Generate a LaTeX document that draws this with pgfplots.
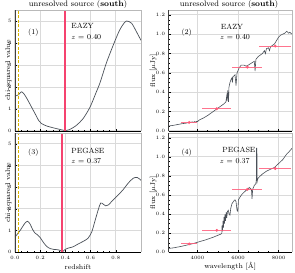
\documentclass[border=0pt]{standalone}
\usepackage{pgfplots}
\pgfplotsset{compat=1.18}
\definecolor{curvec}{HTML}{4A5058}
\definecolor{zline}{HTML}{F5436F}
\definecolor{ptred}{HTML}{FF5C7A}
\definecolor{ydash}{HTML}{D9B400}
\definecolor{gridc}{HTML}{DADADA}
\pgfplotsset{
  panel/.style={
    scale only axis, clip mode=individual,
    axis line style={draw=none},
    grid=major, major grid style={gridc, line width=1pt},
    major tick length=2.2pt, minor tick length=1.3pt,
    every tick/.append style={black, line width=0.35pt},
    tick align=inside, xtick pos=bottom, ytick pos=left,
    tick label style={font=\fontsize{5.5}{6}\selectfont},
    label style={font=\fontsize{7}{8}\selectfont},
  },
  leftp/.style={panel, width=126pt, xmin=0, xmax=1, ymin=0, ymax=5.5,
    xtick={0,0.2,0.4,0.6,0.8}, ytick={0,1,2,3,4,5},
    minor x tick num=3, minor y tick num=4,
    xticklabel style={/pgf/number format/fixed, /pgf/number format/fixed zerofill, /pgf/number format/precision=1},
    ylabel={chi-squared value},
    ylabel style={at={(axis description cs:-0.053,0.5)}, anchor=center},
  },
  rightp/.style={panel, width=123.5pt, xmin=2570, xmax=8660, ymin=0, ymax=1.25,
    xtick={4000,6000,8000}, ytick={0,0.2,0.4,0.6,0.8,1.0,1.2},
    minor x tick num=3, minor y tick num=3,
    scaled x ticks=false,
    xticklabel style={/pgf/number format/set thousands separator={}},
    yticklabel style={/pgf/number format/fixed, /pgf/number format/fixed zerofill, /pgf/number format/precision=1},
    ylabel={flux [$\mu$Jy]},
    ylabel style={at={(axis description cs:-0.123,0.5)}, anchor=center},
  },
}
\newcommand{\spines}{%
  \draw[gray!55, line width=0.4pt] (rel axis cs:0,1) -- (rel axis cs:1,1) -- (rel axis cs:1,0);
  \draw[black!75, line width=0.5pt] (rel axis cs:0,0) -- (rel axis cs:0,1);
  \draw[black, line width=0.8pt] (rel axis cs:0,0) -- (rel axis cs:1,0);
}
\newcommand{\annfont}{\fontsize{7.5}{8}\selectfont}
\pgfplotstableread{
lam f ex ey
3590 0.088 385 0.008
4950 0.230 710 0.010
6460 0.660 740 0.012
7830 0.878 775 0.015
}\phot
\pgfplotstableread{
z chi
0.40 -0.05
0.40 5.5
}\zlineA
\pgfplotstableread{
z chi
0.37 0
0.37 5.55
}\zlineB
\begin{document}
\begin{tikzpicture}
\useasboundingbox (0,0) rectangle (295pt,273pt);
\node[font=\fontsize{8}{9}\selectfont] at (78pt,268pt) {unresolved source (\textbf{south})};
\node[font=\fontsize{8}{9}\selectfont] at (229pt,268pt) {unresolved source (\textbf{south})};
% panel 1
\begin{axis}[leftp, at={(15pt,142pt)}, anchor=south west, height=121pt, xticklabels={}]
\addplot[curvec, line width=0.7pt, smooth, mark=none] coordinates {
(0.010,1.60) (0.030,1.66) (0.050,1.78) (0.070,1.70) (0.100,1.42) (0.130,1.10)
(0.160,0.78) (0.190,0.46) (0.210,0.34) (0.250,0.23) (0.300,0.15) (0.350,0.08)
(0.380,0.04) (0.400,0.02) (0.430,0.06) (0.460,0.15) (0.490,0.27) (0.540,0.56)
(0.595,1.08) (0.640,1.70) (0.675,2.20) (0.727,3.12) (0.790,4.05) (0.830,4.58)
(0.860,4.86) (0.885,5.00) (0.925,4.90) (0.965,4.50) (1.000,4.12)};
\addplot[zline, line width=1.8pt, mark=none] table[x=z, y=chi] {\zlineA};
\addplot[ydash, line width=0.9pt, dash pattern=on 3pt off 1.5pt, mark=none] coordinates {(0.03,0) (0.03,5.5)};
\node[font=\annfont] at (axis cs:0.145,4.49) {(1)};
\node[font=\annfont, anchor=west] at (axis cs:0.42,4.76) {EAZY};
\node[font=\annfont, anchor=west] at (axis cs:0.42,4.25) {$z$ = 0.40};
\spines
\end{axis}
% panel 3
\begin{axis}[leftp, at={(15pt,20.7pt)}, anchor=south west, height=119.3pt,
  xlabel={redshift}, xlabel style={at={(axis description cs:0.5,-0.12)}, anchor=center}]
\addplot[curvec, line width=0.7pt, smooth, mark=none] coordinates {
(0.000,0.70) (0.020,0.85) (0.040,1.00) (0.060,1.18) (0.080,1.35) (0.100,1.43)
(0.120,1.30) (0.140,1.05) (0.160,0.88) (0.180,0.80) (0.200,0.68) (0.220,0.50)
(0.250,0.28) (0.280,0.17) (0.310,0.13) (0.340,0.12) (0.360,0.08) (0.375,0.01)
(0.390,0.10) (0.420,0.19) (0.460,0.25) (0.500,0.38) (0.540,0.50) (0.580,0.65)
(0.610,0.95) (0.630,1.35) (0.660,1.95) (0.680,2.27) (0.700,2.22) (0.720,2.14)
(0.740,2.18) (0.780,2.42) (0.820,2.65) (0.860,2.90) (0.900,3.20) (0.940,3.42)
(0.970,3.45) (1.000,3.32)};
\addplot[zline, line width=1.8pt, mark=none] table[x=z, y=chi] {\zlineB};
\addplot[ydash, line width=0.9pt, dash pattern=on 3pt off 1.5pt, mark=none] coordinates {(0.03,0) (0.03,5.5)};
\node[font=\annfont] at (axis cs:0.145,4.59) {(3)};
\node[font=\annfont, anchor=west] at (axis cs:0.42,4.69) {PEGASE};
\node[font=\annfont, anchor=west] at (axis cs:0.42,4.22) {$z$ = 0.37};
\spines
\end{axis}
% panel 2
\begin{axis}[rightp, at={(168.5pt,142pt)}, anchor=south west, height=121pt, xticklabels={}]
\addplot[curvec, line width=0.6pt, mark=none] coordinates {
(2590,0.052) (2800,0.058) (3000,0.066) (3200,0.074) (3400,0.080) (3600,0.088)
(3750,0.094) (3800,0.089) (3850,0.097) (3900,0.091) (3950,0.100) (4000,0.097)
(4050,0.107) (4100,0.115) (4300,0.135) (4500,0.160) (4700,0.190) (4900,0.220)
(5100,0.250) (5300,0.280) (5400,0.300) (5440,0.360) (5460,0.310) (5490,0.420)
(5510,0.370) (5530,0.300) (5550,0.450) (5600,0.500) (5650,0.530) (5700,0.550)
(5720,0.500) (5750,0.560) (5850,0.580) (5900,0.470) (5950,0.600) (6050,0.650)
(6150,0.680) (6300,0.680) (6400,0.670) (6500,0.680) (6650,0.700) (6800,0.720)
(6840,0.620) (6880,0.740) (7000,0.770) (7200,0.800) (7300,0.830) (7350,0.800)
(7400,0.850) (7500,0.860) (7550,0.830) (7600,0.870) (7800,0.900) (8000,0.970)
(8100,0.990) (8300,1.010) (8400,1.030) (8500,1.010) (8550,1.020) (8660,1.000)};
\addplot[ptred, opacity=0.85, only marks, mark=*, mark size=1.3pt,
  error bars/.cd, x dir=both, x explicit, y dir=both, y explicit,
  error bar style={ptred, line width=0.8pt}, error mark=none]
  table[x=lam, y=f, x error=ex, y error=ey] {\phot};
\node[font=\annfont] at (axis cs:3469,1.02) {(2)};
\node[font=\annfont] at (axis cs:5706,1.08) {EAZY};
\node[font=\annfont] at (axis cs:5854,0.97) {$z$ = 0.40};
\spines
\end{axis}
% panel 4
\begin{axis}[rightp, at={(168.5pt,20.7pt)}, anchor=south west, height=119.3pt,
  xlabel={wavelength [\AA]}, xlabel style={at={(axis description cs:0.5,-0.12)}, anchor=center}]
\addplot[curvec, line width=0.6pt, mark=none] coordinates {
(2590,0.041) (2800,0.046) (3000,0.054) (3200,0.062) (3400,0.072) (3600,0.082)
(3800,0.092) (4000,0.105) (4200,0.118) (4400,0.130) (4600,0.145) (4800,0.160)
(5000,0.178) (5150,0.190) (5200,0.200) (5210,0.280) (5230,0.220) (5260,0.330)
(5280,0.260) (5310,0.370) (5330,0.300) (5360,0.400) (5380,0.330) (5420,0.420)
(5440,0.360) (5480,0.430) (5520,0.440) (5560,0.400) (5600,0.390) (5640,0.460)
(5700,0.510) (5800,0.540) (5850,0.550) (5900,0.530) (5950,0.440) (5990,0.430)
(6020,0.550) (6100,0.580) (6200,0.610) (6300,0.630) (6400,0.650) (6500,0.660)
(6550,0.680) (6600,0.670) (6660,0.660) (6690,0.560) (6720,0.660) (6800,0.700)
(6880,0.720) (6900,0.760) (6910,1.090) (6930,1.090) (6940,0.740) (6960,0.760)
(7000,0.780) (7200,0.820) (7400,0.850) (7600,0.870) (7800,0.890) (8000,0.930)
(8200,0.970) (8400,1.030) (8500,1.050) (8660,1.090)};
\addplot[ptred, opacity=0.85, only marks, mark=*, mark size=1.3pt,
  error bars/.cd, x dir=both, x explicit, y dir=both, y explicit,
  error bar style={ptred, line width=0.8pt}, error mark=none]
  table[x=lam, y=f, x error=ex, y error=ey] {\phot};
\node[font=\annfont] at (axis cs:3469,1.042) {(4)};
\node[font=\annfont] at (axis cs:6042,1.078) {PEGASE};
\node[font=\annfont] at (axis cs:5839,0.956) {$z$ = 0.37};
\spines
\end{axis}
\end{tikzpicture}
\end{document}
